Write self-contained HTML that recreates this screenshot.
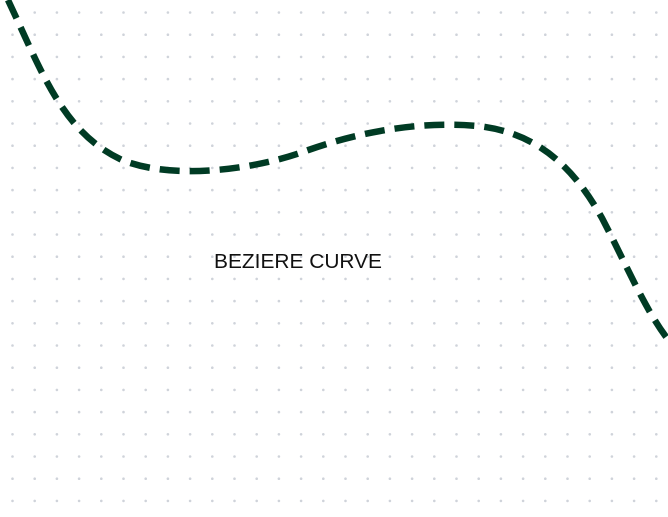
<!DOCTYPE html>
<html><head><meta charset="utf-8"><style>
html,body{margin:0;padding:0;background:#fff;}
svg{display:block;}
</style></head><body>
<svg width="668" height="517" viewBox="0 0 668 517">
<g id="dots"></g>
<path d="M8,0 C42,72 62,132 122,160 C172,180 250,170 300,153 C360,131 420,121 478,126 C540,133 575,170 602,218 C628,268 646,312 670,342" fill="none" stroke="#003b24" stroke-width="6.5" stroke-dasharray="20,10"/>
<text x="214" y="268" font-family="Liberation Sans, sans-serif" font-size="20" fill="#111" textLength="168" lengthAdjust="spacingAndGlyphs">BEZIERE CURVE</text>
</svg>
<script>
const g=document.getElementById('dots');
for(let i=0;i<30;i++){for(let j=0;j<23;j++){
const c=document.createElementNS('http://www.w3.org/2000/svg','circle');


c.setAttribute('cx',12.5+i*22.2);c.setAttribute('cy',12.5+j*22.2);c.setAttribute('r',1.3);c.setAttribute('fill','#cfd3da');
g.appendChild(c);}}
</script>
</body></html>
